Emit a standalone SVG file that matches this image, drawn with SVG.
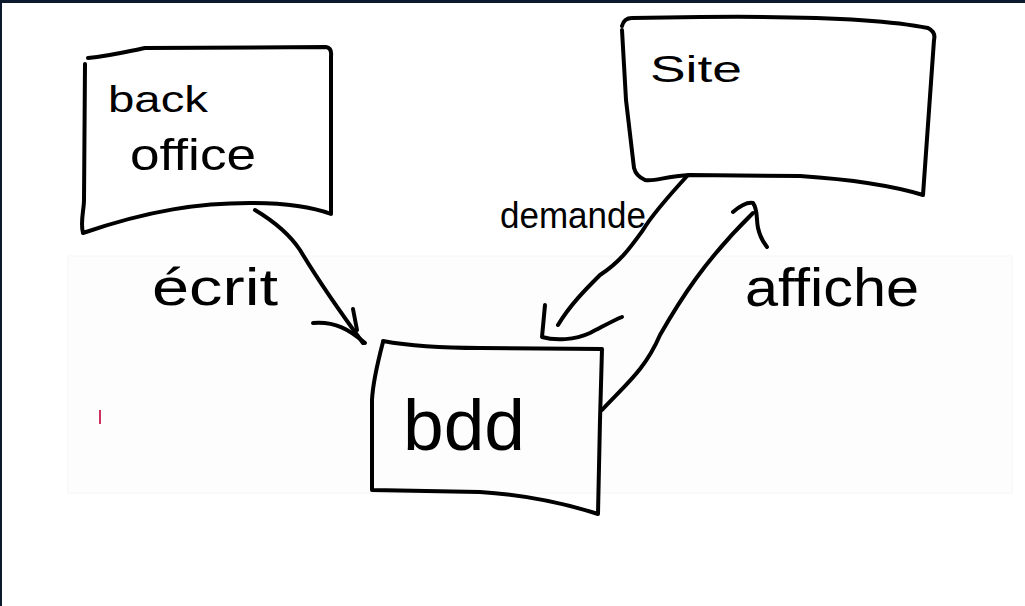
<svg xmlns="http://www.w3.org/2000/svg" width="1025" height="606" viewBox="0 0 1025 606">
<style>
.ink{fill:none;stroke:#000;stroke-width:4;stroke-linecap:round;stroke-linejoin:round}
.lbl{font-family:"Liberation Sans","DejaVu Sans",sans-serif;fill:#000}
</style>
<rect x="0" y="0" width="1025" height="606" fill="#fff"/>
<rect x="68" y="256" width="944" height="237" fill="#fdfdfd" stroke="#f5f5f5" stroke-width="1"/>
<rect x="0" y="0" width="1025" height="3" fill="#0b1a2c"/>
<rect x="0" y="0" width="2" height="606" fill="#0b1a2c"/>
<g id="back-office">
<path class="ink" d="M88,58 C110,56 125,52 145,48 L326,47 Q332,48 331,56 L331,214 C315,208 290,203 250,203 C200,203 150,210 83,233 C80,222 84,210 84,200 L85,64"/>
<text class="lbl" x="108" y="112" font-size="36" textLength="100" lengthAdjust="spacingAndGlyphs">back</text>
<text class="lbl" x="130" y="170" font-size="44" textLength="126" lengthAdjust="spacingAndGlyphs">office</text>
</g>
<g id="site">
<path class="ink" d="M622,26 Q624,18 632,18 L700,17 C800,16 880,18 928,28 Q936,32 934,40 L923,195 C900,188 860,180 800,176 L690,175 C665,176 655,182 645,180 Q636,176 634,168 L626,100 L622,30"/>
<text class="lbl" x="650" y="82" font-size="36" textLength="92" lengthAdjust="spacingAndGlyphs">Site</text>
</g>
<g id="bdd">
<path class="ink" d="M383,341 C410,346 450,348 480,348 L602,349 L600,420 L598,514 C570,505 530,495 480,492 L372,490 L372,400 Q373,380 383,342"/>
<text class="lbl" x="403" y="450" font-size="72" textLength="122" lengthAdjust="spacingAndGlyphs">bdd</text>
</g>
<g id="connectors">
<path class="ink" d="M255,210 C275,222 290,235 300,250 C315,275 335,305 363,343"/>
<path class="ink" d="M313,323 C335,321 350,330 365,343"/>
<path class="ink" d="M353,309 L357,330"/>
<path class="ink" d="M688,175 C665,200 652,215 643,230 C630,248 620,262 600,275 C585,290 570,305 558,325"/>
<path class="ink" d="M545,305 L542,337 C555,341 575,340 590,333 C602,327 612,321 622,317"/>
<path class="ink" d="M602,410 C625,385 645,370 660,335 C680,300 705,260 753,213"/>
<path class="ink" d="M733,212 C740,206 748,202 753,203 C758,210 756,218 758,228 C760,237 763,242 767,247"/>
<text class="lbl" x="152" y="305" font-size="52" textLength="126" lengthAdjust="spacingAndGlyphs">écrit</text>
<text class="lbl" x="500" y="228" font-size="36" textLength="146" lengthAdjust="spacingAndGlyphs">demande</text>
<text class="lbl" x="745" y="306" font-size="54" textLength="174" lengthAdjust="spacingAndGlyphs">affiche</text>
</g>
<path d="M100,410 L100,424" stroke="#d03060" stroke-width="2" fill="none"/>
</svg>
